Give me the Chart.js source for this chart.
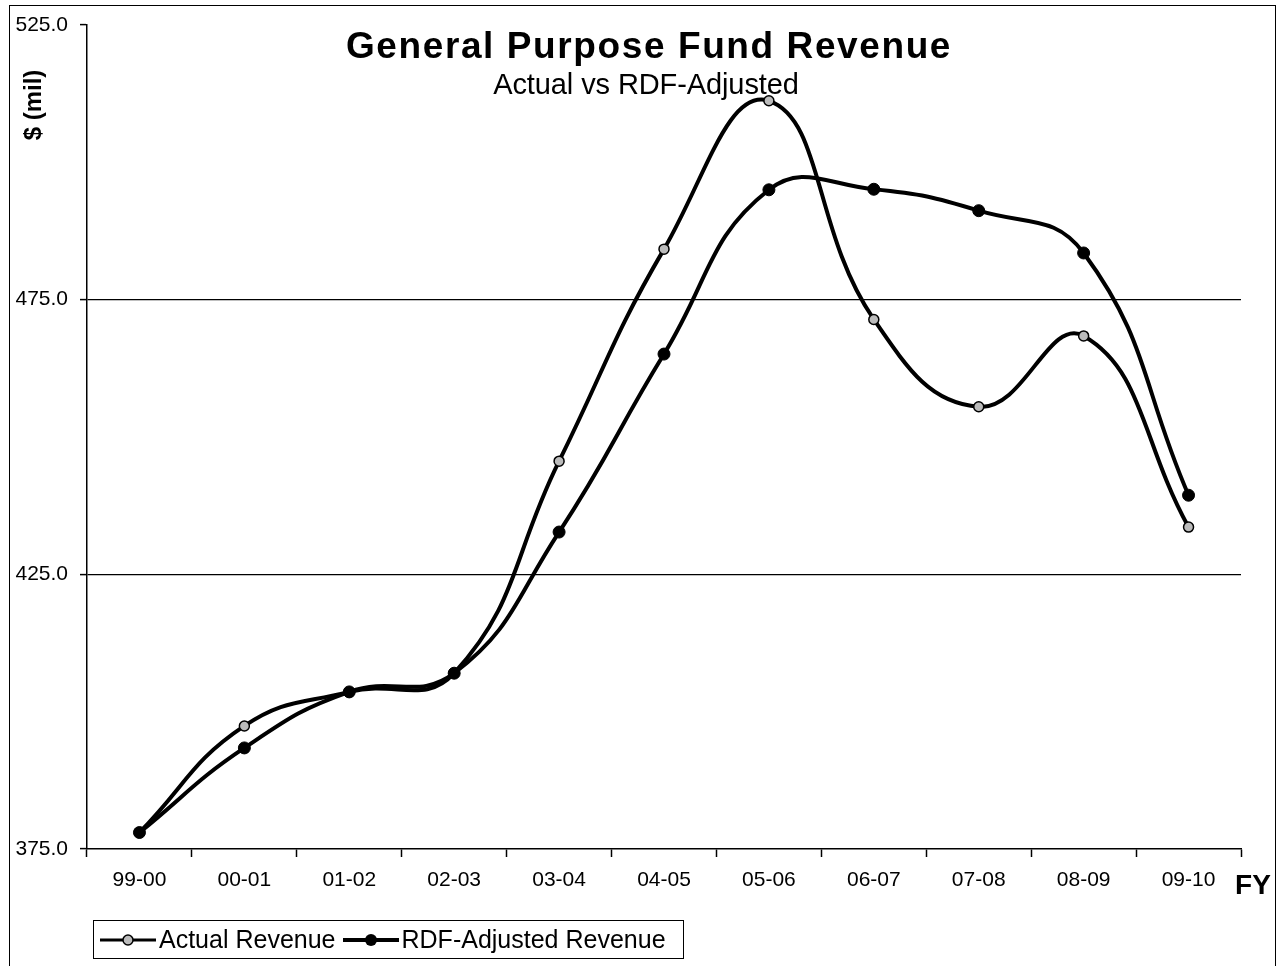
<!DOCTYPE html>
<html>
<head>
<meta charset="utf-8">
<script src="https://cdn.jsdelivr.net/npm/chart.js@4.4.1/dist/chart.umd.min.js"></script>
<style>
  body { margin: 0; background: #fff; font-family: "Liberation Sans", Arial, sans-serif; color: #000; }
  #wrap { position: relative; width: 1279px; height: 966px; overflow: hidden; background: #fff; }
  #frame { position: absolute; left: 9px; top: 5px; width: 1267px; height: 990px; border: 1.5px solid #000; box-sizing: border-box; pointer-events: none; }
  .lbl { position: absolute; white-space: nowrap; transform: translateX(-50%); line-height: 1; }
  #title { left: 649px; top: 27px; font-size: 37px; font-weight: bold; letter-spacing: 1.6px; }
  #subtitle { left: 646px; top: 70px; font-size: 29px; letter-spacing: -0.1px; }
  #ytitle { left: 33px; top: 105px; font-size: 24px; font-weight: bold; transform: translate(-50%, -50%) rotate(-90deg); }
  #fy { left: 1253px; top: 871px; font-size: 28px; font-weight: bold; }
  #legend { position: absolute; left: 93px; top: 920px; width: 591px; height: 39px; border: 1.5px solid #000; box-sizing: border-box;
            display: flex; align-items: center; padding-left: 5px; font-size: 25px; }
  #legend .item { display: flex; align-items: center; margin-right: 6px; }
  #legend svg { margin-right: 2px; }
</style>
</head>
<body>
<div id="wrap">
  <canvas id="revChart" width="1279" height="966"></canvas>
  <div id="frame"></div>
  <div id="title" class="lbl">General Purpose Fund Revenue</div>
  <div id="subtitle" class="lbl">Actual vs RDF-Adjusted</div>
  <div id="ytitle" class="lbl">$ (mil)</div>
  <div id="fy" class="lbl">FY</div>
  <div id="legend">
    <div class="item">
      <svg width="58" height="20"><line x1="1" y1="10" x2="57" y2="10" stroke="#000" stroke-width="3"/><circle cx="29" cy="10" r="5" fill="#bbb" stroke="#000" stroke-width="1.5"/></svg>
      <span>Actual Revenue</span>
    </div>
    <div class="item">
      <svg width="58" height="20"><line x1="1" y1="10" x2="57" y2="10" stroke="#000" stroke-width="4"/><circle cx="29" cy="10" r="6" fill="#000"/></svg>
      <span>RDF-Adjusted Revenue</span>
    </div>
  </div>
</div>
<script>
// Données ($ millions)
const fiscalYears = ['99-00', '00-01', '01-02', '02-03', '03-04', '04-05', '05-06', '06-07', '07-08', '08-09', '09-10'];
const actualRevenue = [378.0, 397.4, 403.6, 407.0, 445.6, 484.2, 511.2, 471.4, 455.5, 468.4, 433.6];
const rdfAdjustedRevenue = [378.0, 393.4, 403.6, 407.0, 432.7, 465.1, 495.0, 495.1, 491.2, 483.5, 439.4];

const yMin = 375, yMax = 525, yStep = 50;
const gridValues = [425, 475];

const ctx = document.getElementById('revChart').getContext('2d');
Chart.defaults.font.family = '"Liberation Sans", Arial, sans-serif';
Chart.defaults.color = '#000';

new Chart(ctx, {
    type: 'line',
    data: {
        labels: fiscalYears,
        datasets: [
            {
                label: 'Actual Revenue',
                data: actualRevenue,
                order: 1,
                borderColor: '#000',
                borderWidth: 4,
                tension: 0.45,
                pointRadius: 5,
                pointBackgroundColor: '#bbb',
                pointBorderColor: '#000',
                pointBorderWidth: 1.5
            },
            {
                label: 'RDF-Adjusted Revenue',
                data: rdfAdjustedRevenue,
                order: 0, // dessiné par-dessus
                borderColor: '#000',
                borderWidth: 4,
                tension: 0.45,
                pointRadius: 6,
                pointBackgroundColor: '#000',
                pointBorderColor: '#000',
                pointBorderWidth: 1
            }
        ]
    },
    options: {
        responsive: false,
        animation: false,
        layout: { padding: { left: 0, right: 38, top: 25, bottom: 0 } },
        plugins: { legend: { display: false }, tooltip: { enabled: false } },
        scales: {
            x: {
                offset: true,
                grid: { offset: true, drawOnChartArea: false, tickLength: 8, tickColor: '#000', tickWidth: 1.5 },
                border: { color: '#000', width: 1.5 },
                ticks: { font: { size: 21 }, padding: 11, maxRotation: 0 },
                afterFit: s => { s.height = 117; }
            },
            y: {
                min: yMin,
                max: yMax,
                ticks: { stepSize: yStep, font: { size: 21 }, padding: 12, callback: v => v.toFixed(1) },
                grid: {
                    color: c => gridValues.includes(c.tick && c.tick.value) ? '#000' : 'rgba(0,0,0,0)',
                    lineWidth: 1.2,
                    tickLength: 7,
                    tickColor: '#000',
                    tickWidth: 1.5
                },
                border: { color: '#000', width: 1.5 },
                afterFit: s => { s.width = 87; }
            }
        }
    }
});
</script>
</body>
</html>
